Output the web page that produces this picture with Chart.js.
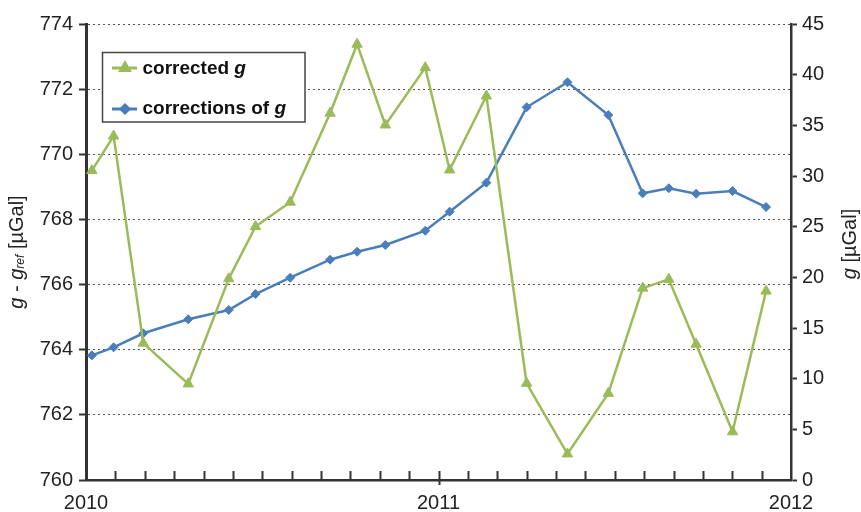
<!DOCTYPE html>
<html>
<head>
<meta charset="utf-8">
<script src="https://cdn.jsdelivr.net/npm/chart.js@4/dist/chart.umd.min.js"></script>
<style>
  html, body { margin: 0; padding: 0; background: #fff; }
  #wrap { width: 861px; height: 512px; }
</style>
</head>
<body>
<div id="wrap"><canvas id="chart" width="861" height="512"></canvas></div>
<script>
// months since Jan 2010 for each survey
const months = [0.20, 0.94, 1.95, 3.48, 4.86, 5.77, 6.95, 8.31, 9.23, 10.19, 11.55,
  12.38, 13.63, 15.00, 16.39, 17.78, 18.95, 19.84, 20.77, 22.01, 23.15];

// corrected g, left axis (g - g_ref)
const correctedG = [769.50, 770.56, 764.20, 762.95, 766.18, 767.78, 768.53, 771.26, 773.38, 770.90, 772.66,
  769.52, 771.79, 762.97, 760.80, 762.66, 765.89, 766.16, 764.17, 761.48, 765.80];

// corrections of g, right axis
const correctionsG = [12.30, 13.09, 14.48, 15.86, 16.78, 18.35, 19.96, 21.74, 22.53, 23.19, 24.60,
  26.48, 29.34, 36.78, 39.25, 36.02, 28.29, 28.79, 28.25, 28.52, 26.94];

const yearLabels = ['2010', '2011', '2012'];

const GREEN = '#9bbb59';
const BLUE = '#4a7ebb';
const AXIS = '#333333';
const FONT = "'Liberation Sans', Arial, sans-serif";

const toPoints = (ys) => months.map((m, i) => ({ x: m, y: ys[i] }));

/**
 * Monthly tick marks along the time axis (pointing into the plot)
 */
const monthTicks = {
  id: 'monthTicks',
  afterDraw(chart) {
    const { ctx, chartArea, scales } = chart;
    const xs = scales.x;
    ctx.save();
    ctx.strokeStyle = AXIS;
    ctx.lineWidth = 2;
    for (let m = 1; m < 24; m++) {
      const x = Math.round(xs.getPixelForValue(m)) + 0.5;
      ctx.beginPath();
      ctx.moveTo(x, chartArea.bottom - 9);
      ctx.lineTo(x, chartArea.bottom + (m === 12 ? 5 : 0));
      ctx.stroke();
    }
    ctx.restore();
  }
};

/**
 * Axis titles with italic / subscript parts
 */
function drawRuns(ctx, runs, x, y) {
  let cx = x;
  runs.forEach(r => {
    ctx.font = r.font;
    ctx.fillText(r.text, cx, y + (r.dy || 0));
    cx += ctx.measureText(r.text).width;
  });
  return cx - x;
}

function runsWidth(ctx, runs) {
  let w = 0;
  runs.forEach(r => { ctx.font = r.font; w += ctx.measureText(r.text).width; });
  return w;
}

const axisTitles = {
  id: 'axisTitles',
  afterDraw(chart) {
    const { ctx, chartArea } = chart;
    const midY = (chartArea.top + chartArea.bottom) / 2;
    const reg = `20px ${FONT}`;
    const ita = `italic 20px ${FONT}`;
    const sub = `italic 12px ${FONT}`;

    const left = [
      { text: 'g', font: ita },
      { text: ' - ', font: reg },
      { text: 'g', font: ita },
      { text: 'ref', font: sub, dy: 4 },
      { text: ' [\u00b5Gal]', font: reg }
    ];
    const right = [
      { text: 'g', font: ita },
      { text: ' [\u00b5Gal]', font: reg }
    ];

    ctx.save();
    ctx.fillStyle = '#222';
    ctx.textBaseline = 'middle';
    ctx.textAlign = 'left';

    ctx.save();
    ctx.translate(17, midY);
    ctx.rotate(-Math.PI / 2);
    drawRuns(ctx, left, -runsWidth(ctx, left) / 2, 0);
    ctx.restore();

    ctx.save();
    ctx.translate(850, 244);
    ctx.rotate(-Math.PI / 2);
    drawRuns(ctx, right, -runsWidth(ctx, right) / 2, 0);
    ctx.restore();

    ctx.restore();
  }
};

/**
 * Boxed legend in the upper left of the plot
 */
const boxLegend = {
  id: 'boxLegend',
  afterDraw(chart) {
    const { ctx } = chart;
    const rows = [
      { label: 'corrected ', color: GREEN, style: 'triangle', y: 68, base: 74 },
      { label: 'corrections of ', color: BLUE, style: 'rectRot', y: 109, base: 114 }
    ];
    ctx.save();
    ctx.fillStyle = '#fff';
    ctx.fillRect(102.5, 52.5, 202.5, 69.5);
    ctx.strokeStyle = '#444';
    ctx.lineWidth = 1.5;
    ctx.strokeRect(102.5, 52.5, 202.5, 69.5);

    rows.forEach(r => {
      ctx.strokeStyle = r.color;
      ctx.lineWidth = 3;
      ctx.beginPath();
      ctx.moveTo(112, r.y);
      ctx.lineTo(137, r.y);
      ctx.stroke();
      ctx.fillStyle = r.color;
      Chart.helpers.drawPoint(ctx, { pointStyle: r.style, radius: r.style === 'triangle' ? 5 : 4, borderWidth: 1 }, 125, r.y);
      ctx.fill();

      ctx.fillStyle = '#111';
      ctx.textBaseline = 'alphabetic';
      drawRuns(ctx, [
        { text: r.label, font: `bold 19px ${FONT}` },
        { text: 'g', font: `italic bold 19px ${FONT}` }
      ], 142.5, r.base);
    });
    ctx.restore();
  }
};

const ctx = document.getElementById('chart');

new Chart(ctx, {
  type: 'line',
  data: {
    datasets: [
      {
        label: 'corrected g',
        data: toPoints(correctedG),
        yAxisID: 'y',
        borderColor: GREEN,
        backgroundColor: GREEN,
        borderWidth: 2.5,
        pointStyle: 'triangle',
        pointRadius: 6,
        pointBorderWidth: 1,
        tension: 0
      },
      {
        label: 'corrections of g',
        data: toPoints(correctionsG),
        yAxisID: 'y1',
        borderColor: BLUE,
        backgroundColor: BLUE,
        borderWidth: 2.5,
        pointStyle: 'rectRot',
        pointRadius: 4.5,
        pointBorderWidth: 1,
        tension: 0
      }
    ]
  },
  options: {
    responsive: false,
    devicePixelRatio: 1,
    animation: false,
    layout: {
      padding: { top: 24, left: 0, right: 0, bottom: 0 }
    },
    plugins: {
      legend: { display: false },
      tooltip: { enabled: false }
    },
    scales: {
      x: {
        type: 'linear',
        min: 0,
        max: 24,
        afterFit: (scale) => { scale.height = 32; },
        afterBuildTicks: (scale) => {
          scale.ticks = yearLabels.map((_, i) => ({ value: i * 12 }));
        },
        grid: { display: false, drawTicks: false },
        border: { display: true, color: AXIS, width: 2.5 },
        ticks: {
          color: '#222',
          padding: 11,
          maxRotation: 0,
          autoSkip: false,
          font: { family: FONT, size: 20 },
          callback: (value) => yearLabels[Math.round(value / 12)]
        }
      },
      y: {
        type: 'linear',
        position: 'left',
        min: 760,
        max: 774,
        afterFit: (scale) => { scale.width = 86; },
        grid: {
          color: '#555',
          lineWidth: 1,
          tickLength: 7,
          tickColor: AXIS,
          tickWidth: 2,
          tickBorderDash: []
        },
        border: { display: true, color: AXIS, width: 3, dash: [2, 3] },
        ticks: {
          stepSize: 2,
          color: '#222',
          padding: 6,
          font: { family: FONT, size: 20 }
        }
      },
      y1: {
        type: 'linear',
        position: 'right',
        min: 0,
        max: 45,
        afterFit: (scale) => { scale.width = 70; },
        grid: {
          drawOnChartArea: false,
          tickLength: 6,
          tickColor: AXIS,
          tickWidth: 2
        },
        border: { display: true, color: AXIS, width: 2.5 },
        ticks: {
          stepSize: 5,
          color: '#222',
          padding: 5,
          font: { family: FONT, size: 20 }
        }
      }
    }
  },
  plugins: [monthTicks, axisTitles, boxLegend]
});
</script>
</body>
</html>
